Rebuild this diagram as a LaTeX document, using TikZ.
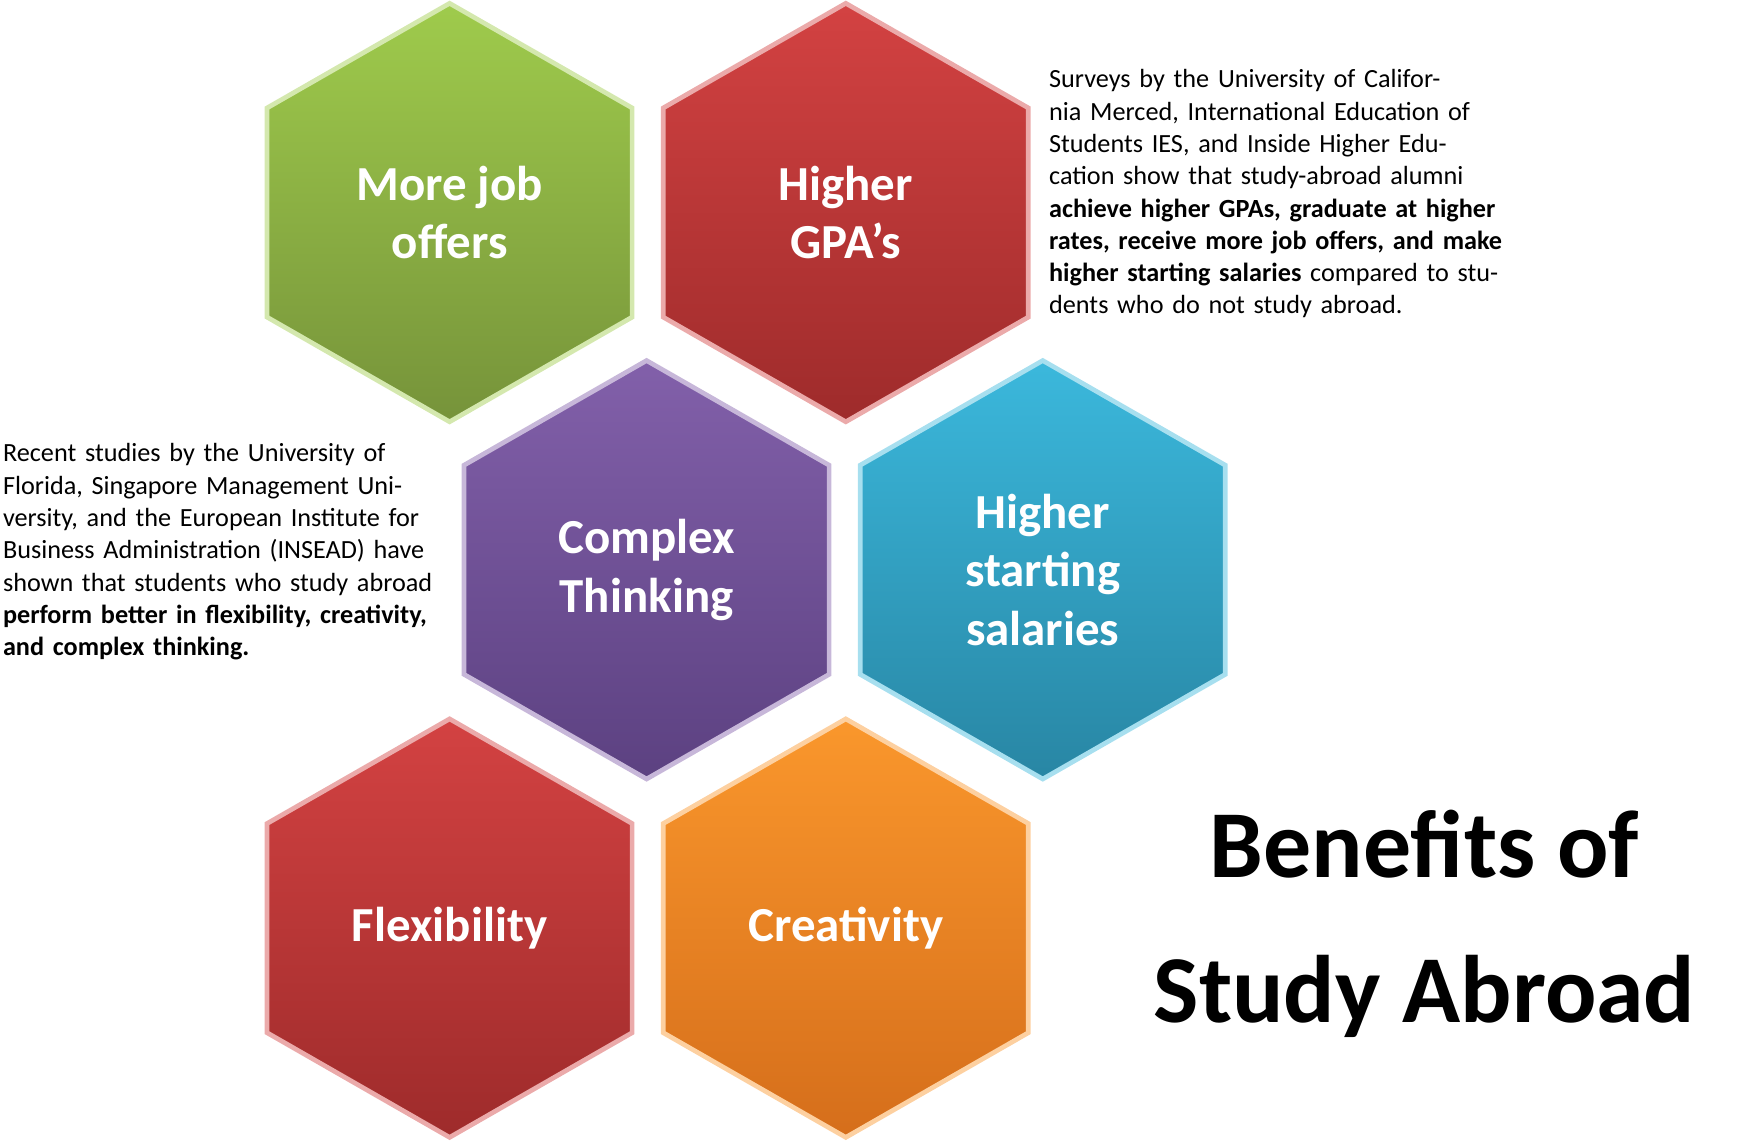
\documentclass[tikz,border=0pt]{standalone}
\usepackage{fontspec}
\setmainfont{Carlito}
\definecolor{gT}{HTML}{9FCB4C}\definecolor{gB}{HTML}{76933A}
\definecolor{rT}{HTML}{D34242}\definecolor{rB}{HTML}{9E2B2B}
\definecolor{pT}{HTML}{8260AA}\definecolor{pB}{HTML}{5C4181}
\definecolor{bT}{HTML}{3BB8DC}\definecolor{bB}{HTML}{2886A4}
\definecolor{oT}{HTML}{FA972C}\definecolor{oB}{HTML}{D56E1B}
\newcommand\hexa[6]{%
  \shade[top color=#4,bottom color=#5,draw=#4!45!white,line width=1.2pt]
   (#2,#3-188) -- (#2+164,#3-94) -- (#2+164,#3+94) -- (#2,#3+188)
   -- (#2-164,#3+94) -- (#2-164,#3-94) -- cycle;
  \node[hextext] (#1) at (#2,#3) {#6};}
\tikzset{hextext/.style={text=white,font=\bfseries\fontsize{12.5}{15}\selectfont,align=center},
 body/.style={anchor=north west,align=left,text width=4.15cm,inner sep=0pt,font=\fontsize{6.7}{8.25}\selectfont}}
\begin{document}
\begin{tikzpicture}[x=0.01cm,y=-0.01cm]
\useasboundingbox (0,0) rectangle (1568,1031);
\hexa{jobs}{404}{191}{gT}{gB}{More job\\offers}
\hexa{gpa}{760}{191}{rT}{rB}{Higher\\GPA’s}
\hexa{complex}{581}{512}{pT}{pB}{Complex\\Thinking}
\hexa{salary}{937}{512}{bT}{bB}{Higher\\starting\\salaries}
\hexa{flex}{404}{834}{rT}{rB}{Flexibility}
\hexa{creat}{760}{834}{oT}{oB}{Creativity}
\node[body] (rtext) at (942,62) {Surveys by the University of California Merced, International Education of Students IES, and Inside Higher Education show that study-abroad alumni \textbf{achieve higher GPAs, graduate at higher rates, receive more job offers, and make higher starting salaries} compared to students who do not study abroad.};
\node[body,text width=3.95cm] (ltext) at (2,398) {Recent studies by the University of Florida, Singapore Management University, and the European Institute for Business Administration (INSEAD) have shown that students who study abroad \textbf{perform better in flexibility, creativity, and complex thinking.}};
\node[font=\bfseries\fontsize{24.5}{37}\selectfont,align=center] (title) at (1280,830) {Benefits of\\Study Abroad};
\end{tikzpicture}
\end{document}
